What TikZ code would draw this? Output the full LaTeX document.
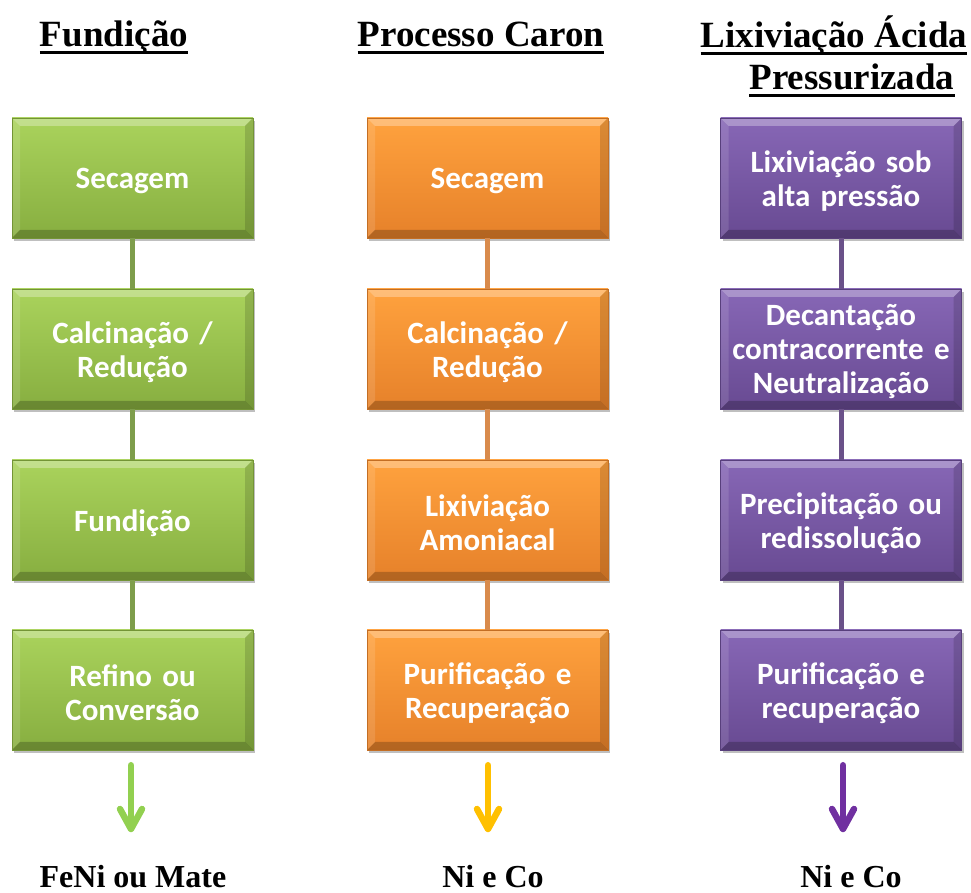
\documentclass[tikz,border=0pt]{standalone}
\usepackage{fontspec}
\setmainfont{Liberation Serif}
\newfontfamily\boxfont{Carlito}
\usetikzlibrary{shadows,calc}

\definecolor{gT}{HTML}{AAD35C}
\definecolor{gB}{HTML}{87AE40}
\definecolor{oT}{HTML}{FFA23E}
\definecolor{oB}{HTML}{E6812A}
\definecolor{pT}{HTML}{8767B6}
\definecolor{pB}{HTML}{684A92}
\definecolor{gLine}{HTML}{7E9D4B}
\definecolor{oLine}{HTML}{D98B4C}
\definecolor{pLine}{HTML}{6A5189}
\definecolor{gArr}{HTML}{92D050}
\definecolor{oArr}{HTML}{FFC000}
\definecolor{pArr}{HTML}{7030A0}

\tikzset{
  bevel/.style={path picture={
    \path (path picture bounding box.south west) coordinate (bSW)
          (path picture bounding box.north east) coordinate (bNE);
    \fill[white,opacity=0.30] (bSW |- bNE) -- (bNE) -- ++(-8pt,-8pt) -- ($(bSW |- bNE)+(8pt,-8pt)$) -- cycle;
    \fill[black,opacity=0.22] (bSW) -- (bSW -| bNE) -- ++(-8pt,8pt) -- ($(bSW)+(8pt,8pt)$) -- cycle;
    \fill[white,opacity=0.12] (bSW) -- (bSW |- bNE) -- ++(8pt,-8pt) -- ($(bSW)+(8pt,8pt)$) -- cycle;
    \fill[black,opacity=0.14] (bSW -| bNE) -- (bNE) -- ++(-8pt,-8pt) -- ($(bSW -| bNE)+(-8pt,8pt)$) -- cycle;
  }},
  btext/.style={inner sep=0pt, text width=238pt, align=center, text=white,
    yshift=-3pt, font=\boxfont\bfseries\fontsize{31}{34}\selectfont},
  procbox/.style={minimum width=241pt, minimum height=120pt, inner sep=0pt,
    drop shadow={shadow xshift=2pt, shadow yshift=-3pt, opacity=0.25, fill=black},
    bevel},
  gbox/.style={procbox, top color=gT, bottom color=gB, draw=gB!85!black, line width=0.5pt},
  obox/.style={procbox, top color=oT, bottom color=oB, draw=oB!85!black, line width=0.5pt},
  pbox/.style={procbox, top color=pT, bottom color=pB, draw=pB!85!black, line width=0.5pt},
  link/.style={line width=5pt},
  outarrow/.style={line width=6.5pt, line cap=round, line join=round},
  title/.style={inner sep=0pt, anchor=base, font=\bfseries\fontsize{37}{40}\selectfont},
  result/.style={inner sep=0pt, anchor=base, font=\bfseries\fontsize{32}{36}\selectfont},
  uline/.style={line width=3.2pt}
}

\begin{document}
\begin{tikzpicture}[x=1pt,y=1pt]
\useasboundingbox (0,0) rectangle (971,893);

% titles
\node[title] (t1) at (114,846) {Fundição};
\node[title] (t2) at (481,846) {Processo Caron};
\node[title] (t3) at (834,845) {Lixiviação Ácida};
\node[title] (t4) at (852,803) {Pressurizada};
\draw[uline] ([yshift=-5.5pt]t1.base west) -- ([yshift=-5.5pt]t1.base east);
\draw[uline] ([yshift=-5.5pt]t2.base west) -- ([yshift=-5.5pt]t2.base east);
\draw[uline] ([yshift=-5.5pt]t3.base west) -- ([yshift=-5.5pt]t3.base east);
\draw[uline] ([yshift=-5.5pt]t4.base west) -- ([yshift=-5.5pt]t4.base east);

% green column
\node[gbox, label={[btext]center:Secagem}] (g1) at (132.5,715) {};
\node[gbox, label={[btext]center:{Calcinação /\\Redução}}] (g2) at (132.5,544) {};
\node[gbox, label={[btext]center:Fundição}] (g3) at (132.5,373) {};
\node[gbox, label={[btext]center:{Refino ou\\Conversão}}] (g4) at (132.5,203) {};

% orange column
\node[obox, label={[btext]center:Secagem}] (o1) at (487.5,715) {};
\node[obox, label={[btext]center:{Calcinação /\\Redução}}] (o2) at (487.5,544) {};
\node[obox, label={[btext]center:{Lixiviação\\Amoniacal}}] (o3) at (487.5,373) {};
\node[obox, label={[btext]center:{Purificação e\\Recuperação}}] (o4) at (487.5,203) {};

% purple column
\node[pbox, label={[btext]center:{Lixiviação sob\\alta pressão}}] (p1) at (841,715) {};
\node[pbox, label={[btext]center:{Decantação\\contracorrente e\\Neutralização}}] (p2) at (841,544) {};
\node[pbox, label={[btext]center:{Precipitação ou\\redissolução}}] (p3) at (841,373) {};
\node[pbox, label={[btext]center:{Purificação e\\recuperação}}] (p4) at (841,203) {};

% links
\draw[link,gLine] (g1) -- (g2);
\draw[link,gLine] (g2) -- (g3);
\draw[link,gLine] (g3) -- (g4);
\draw[link,oLine] (o1) -- (o2);
\draw[link,oLine] (o2) -- (o3);
\draw[link,oLine] (o3) -- (o4);
\draw[link,pLine] (p1) -- (p2);
\draw[link,pLine] (p2) -- (p3);
\draw[link,pLine] (p3) -- (p4);

% output arrows
\coordinate (gtip) at (131,64);
\coordinate (otip) at (488,64);
\coordinate (ptip) at (843,64);
\draw[outarrow,gArr] ([yshift=-15pt]g4.south -| gtip) -- (gtip);
\draw[outarrow,gArr] ([shift={(-11pt,20pt)}]gtip) -- (gtip) -- ([shift={(11pt,20pt)}]gtip);
\draw[outarrow,oArr] ([yshift=-15pt]o4.south -| otip) -- (otip);
\draw[outarrow,oArr] ([shift={(-11pt,20pt)}]otip) -- (otip) -- ([shift={(11pt,20pt)}]otip);
\draw[outarrow,pArr] ([yshift=-15pt]p4.south -| ptip) -- (ptip);
\draw[outarrow,pArr] ([shift={(-11pt,20pt)}]ptip) -- (ptip) -- ([shift={(11pt,20pt)}]ptip);

% results
\node[result] (r1) at (133,5) {FeNi ou Mate};
\node[result] (r2) at (493,5) {Ni e Co};
\node[result] (r3) at (851,5) {Ni e Co};
\end{tikzpicture}
\end{document}
